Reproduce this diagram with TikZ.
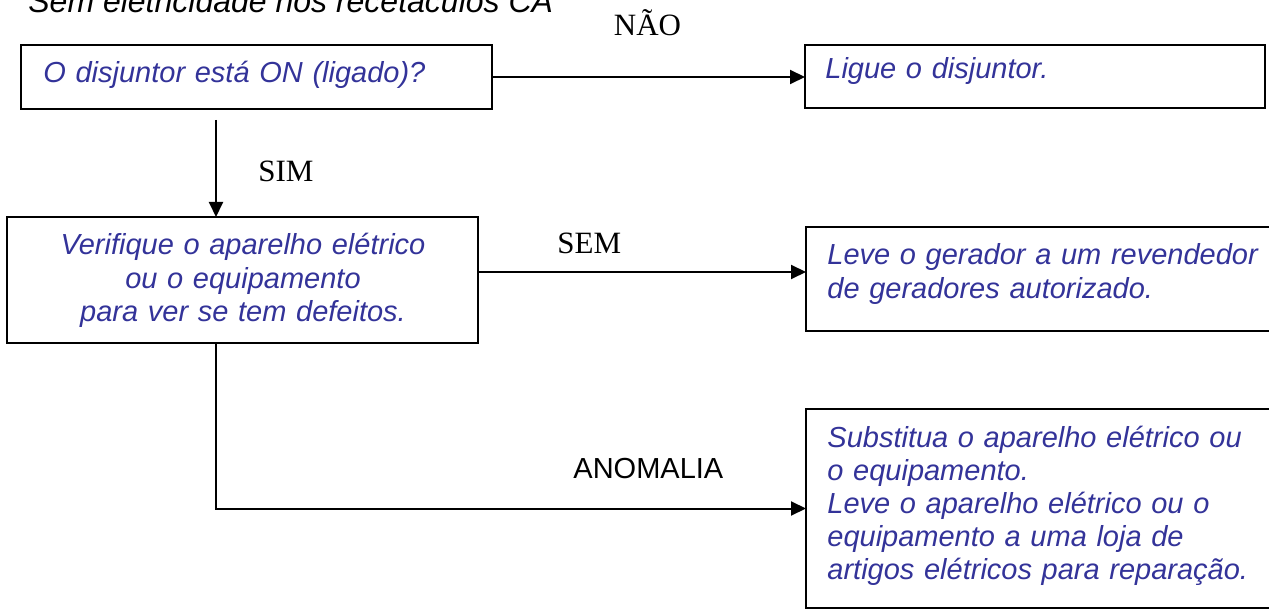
\documentclass[tikz,border=0pt]{standalone}
\usepackage{fontspec}
\setmainfont{Liberation Serif}
\setsansfont{Liberation Sans}
\usetikzlibrary{arrows.meta,positioning,calc}
\definecolor{txtblue}{RGB}{51,51,153}
\tikzset{
  box/.style={draw=black, line width=1.1pt, inner sep=0pt, outer sep=0pt},
  boxtxt/.style={inner sep=0pt, text=txtblue, text width=230pt,
    font=\fontsize{14.5}{16.6}\selectfont\sffamily\itshape},
  flow/.style={-{Triangle[length=7.5pt,width=7pt]}, line width=1pt},
  % branch labels
  lbl/.style={inner sep=0pt, font=\fontsize{15.5}{18}\selectfont},
  sflbl/.style={inner sep=0pt, font=\fontsize{14.5}{17}\selectfont\sffamily},
}

\begin{document}
\begin{tikzpicture}[x=0.5pt,y=-0.5pt]
  \useasboundingbox (0,0) rectangle (1269,609);
  \clip (0,0) rectangle (1269,609);
  % title (cut at the top)
  \node[inner sep=0pt, anchor=base west, font=\fontsize{16}{19}\selectfont\sffamily\itshape] (title) at (28,13)
    {Sem eletricidade nos recetáculos CA};
  % boxes
  \node[box, minimum width=235.5pt, minimum height=32pt] (q1) at (256.5,77) {};
  \node[box, minimum width=230pt, minimum height=31.5pt] (a1) at (1035,76.5) {};
  \node[box, minimum width=235.5pt, minimum height=63pt] (q2) at (242.5,280) {};
  \node[box, minimum width=240pt, minimum height=52pt, anchor=north west] (a2) at (806,227) {};
  \node[box, minimum width=240pt, minimum height=99.5pt, anchor=north west] (a3) at (806,409) {};
  % box texts
  \node[boxtxt, anchor=base west, align=left] (q1t) at (43,83) {O disjuntor está ON (ligado)?};
  \node[boxtxt, anchor=base west, align=left] (a1t) at (825,79) {Ligue o disjuntor.};
  \node[boxtxt, anchor=base, align=center] (q2t) at (243,255)
    {Verifique o aparelho elétrico\\ ou o equipamento\\ para ver se tem defeitos.};
  \node[boxtxt, anchor=base west, align=left] (a2t) at (827,265)
    {Leve o gerador a um revendedor\\ de geradores autorizado.};
  \node[boxtxt, anchor=base west, align=left] (a3t) at (827,447)
    {Substitua o aparelho elétrico ou\\ o equipamento.\\ Leve o aparelho elétrico ou o\\ equipamento a uma loja de\\ artigos elétricos para reparação.};
  % connectors
  \coordinate (simtop) at (216,120);
  \coordinate (semrow) at (0,272);
  \draw[flow] (q1.east) -- (q1.east -| a1.west);
  \draw[flow] (simtop) -- (simtop |- q2.north);
  \draw[flow] (q2.east |- semrow) -- (a2.west |- semrow);
  \draw[flow] (q2.south -| simtop) |- (a3.west);
  % labels
  \node[lbl, anchor=base] (nao) at (647.5,36) {NÃO};
  \node[lbl, anchor=base west] (sim) at (258,182) {SIM};
  \node[lbl, anchor=base west] (sem) at (557,254) {SEM};
  \node[sflbl, anchor=base west] (anom) at (573,478) {ANOMALIA};
\end{tikzpicture}
\end{document}
